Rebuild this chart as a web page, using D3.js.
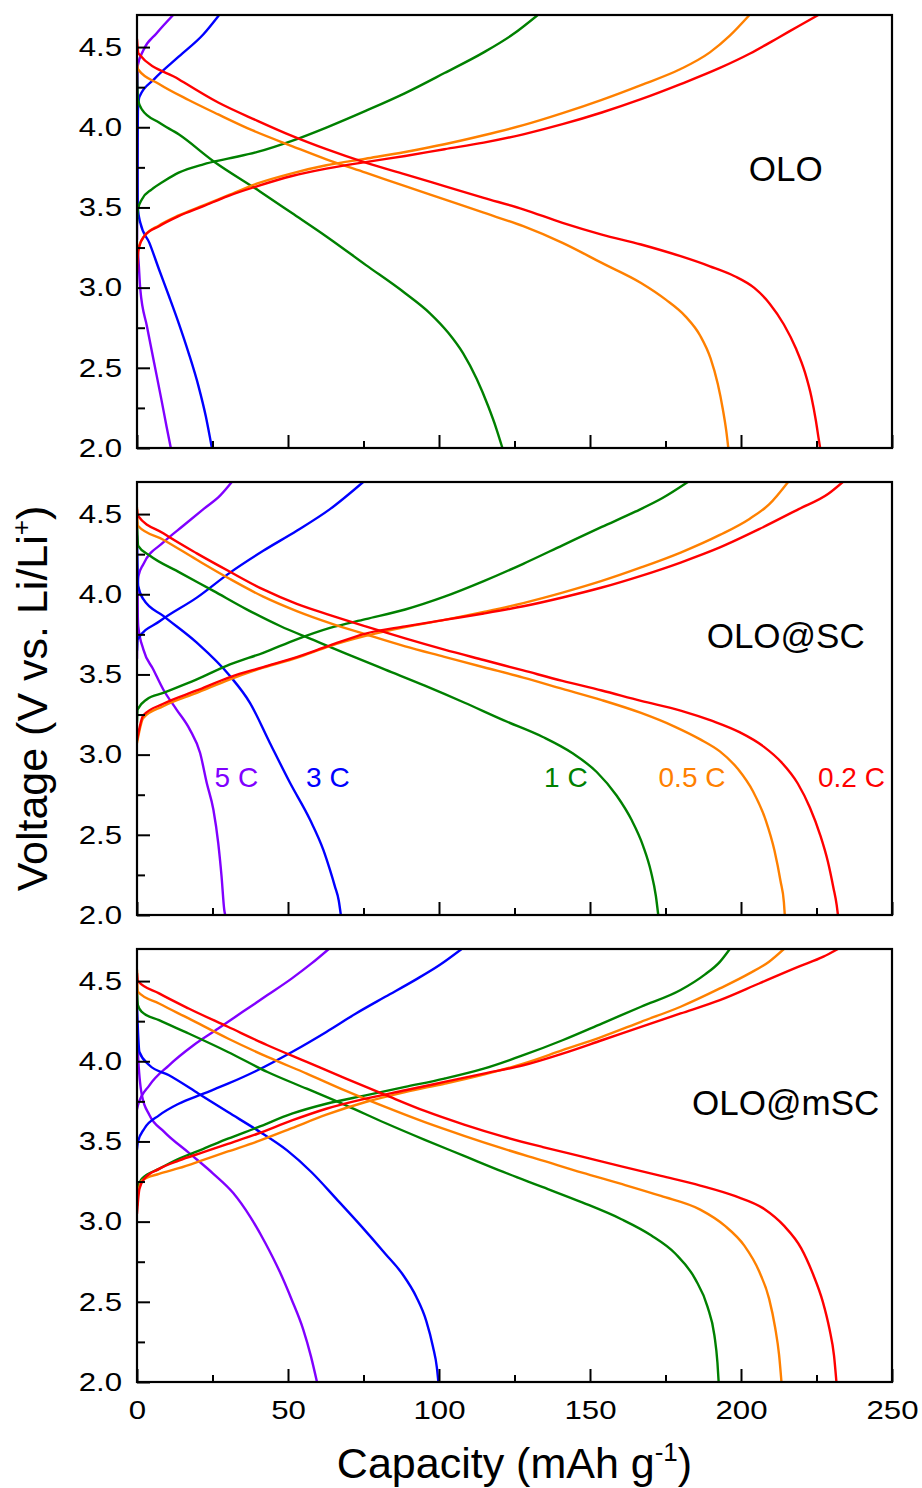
<!DOCTYPE html>
<html><head><meta charset="utf-8">
<script src="https://cdn.jsdelivr.net/npm/d3@7/dist/d3.min.js"></script>
<style>
body{margin:0;background:#fff}
text{font-family:"Liberation Sans",Arial,Helvetica,sans-serif;fill:#000}
</style>
</head><body>
<svg id="chart" width="922" height="1488"></svg>
<script>
// ---------- categories / labels ----------
const panelNames = ["OLO", "OLO@SC", "OLO@mSC"];
const rateLabels = ["5 C", "3 C", "1 C", "0.5 C", "0.2 C"];
const rateColors = ["#8000ff", "#0000ff", "#008000", "#ff8000", "#ff0000"];
const rateLabelX = [25.7, 56.0, 134.8, 172.7, 225.5];   // capacity where the labels start (panel 2)
const rateLabelV = 2.80;
const xMajorTicks = [0, 50, 100, 150, 200, 250];
const xMinorTicks = [25, 75, 125, 175, 225];
const yMajorTicks = [2.0, 2.5, 3.0, 3.5, 4.0, 4.5];
const yMinorTicks = [2.25, 2.75, 3.25, 3.75, 4.25];
const xDomain = [0, 250];
const yDomain = [2.0, 4.7];

// ---------- OLO ----------
const olo_5C_charge = [[0,3.30],[0.2,4.38],[2.1,4.48],[6.5,4.586],[12.0,4.70]];
const olo_5C_discharge = [[0,3.25],[0.3,3.217],[1.1,2.987],[3.3,2.758],[5.7,2.529],[8.1,2.30],[9.8,2.133],[11.2,2.0]];
const olo_3C_charge = [[0,3.45],[0.3,4.10],[0.8,4.19],[5.7,4.30],[13.8,4.44],[22.0,4.58],[27.2,4.70]];
const olo_3C_discharge = [[0,3.90],[0.3,3.49],[1.1,3.404],[4.1,3.279],[7.3,3.113],[10.6,2.946],[13.8,2.779],[17.1,2.592],[20.4,2.383],[22.8,2.196],[24.1,2.071],[24.8,2.0]];
const olo_1C_charge = [[0,3.40],[0.3,3.488],[1.6,3.55],[4.9,3.613],[9.0,3.665],[13.8,3.717],[22.0,3.769],[30.1,3.804],[39.9,3.846],[51.3,3.915],[62.7,3.998],[75.7,4.102],[88.8,4.213],[101.8,4.338],[114.8,4.467],[124.6,4.581],[132.7,4.70]];
const olo_1C_discharge = [[0,4.35],[0.3,4.175],[1.6,4.112],[7.3,4.029],[13.8,3.956],[25.2,3.79],[40.7,3.60],[51.3,3.465],[62.7,3.319],[75.7,3.142],[88.8,2.965],[97.0,2.84],[103.0,2.72],[108.0,2.59],[112.5,2.43],[116.3,2.26],[119.0,2.12],[121.0,2.0]];
const olo_05C_charge = [[0,3.15],[0.3,3.237],[2.4,3.321],[7.3,3.388],[13.8,3.45],[22.0,3.513],[30.1,3.575],[39.9,3.65],[51.3,3.713],[62.7,3.763],[75.7,3.804],[88.8,3.846],[101.8,3.894],[114.8,3.95],[127.9,4.013],[140.9,4.088],[153.9,4.171],[166.9,4.263],[180.0,4.363],[189.7,4.467],[196.3,4.571],[202.8,4.70]];
const olo_05C_discharge = [[0,4.40],[0.4,4.36],[7.3,4.27],[17.1,4.17],[26.9,4.08],[38.3,3.98],[51.3,3.883],[62.7,3.80],[75.7,3.717],[88.8,3.633],[101.8,3.55],[114.8,3.467],[127.9,3.383],[140.9,3.279],[153.9,3.154],[166.9,3.029],[175.1,2.925],[181.6,2.821],[186.5,2.70],[189.9,2.56],[192.3,2.40],[194.0,2.24],[195.1,2.11],[195.8,2.0]];
const olo_02C_charge = [[0,3.10],[0.3,3.2],[0.8,3.258],[2.4,3.321],[7.3,3.383],[13.8,3.446],[22.0,3.508],[30.1,3.571],[39.9,3.633],[51.3,3.696],[62.7,3.742],[75.7,3.783],[88.8,3.821],[101.8,3.863],[114.8,3.904],[127.9,3.956],[140.9,4.019],[153.9,4.092],[166.9,4.175],[180.0,4.269],[193.0,4.37],[203.0,4.46],[212.5,4.56],[219.0,4.63],[225.6,4.70]];
const olo_02C_discharge = [[0,4.55],[0.5,4.46],[13.8,4.30],[26.9,4.154],[39.9,4.04],[51.3,3.946],[62.7,3.863],[75.7,3.779],[88.8,3.706],[101.8,3.633],[114.8,3.56],[127.9,3.488],[140.9,3.404],[153.9,3.331],[166.9,3.269],[180.0,3.196],[189.7,3.133],[197.9,3.071],[204.4,2.998],[209.5,2.90],[214.2,2.77],[218.2,2.62],[221.2,2.47],[223.3,2.32],[224.8,2.17],[225.7,2.06],[226.2,2.0]];

// ---------- OLO@SC ----------
const sc_5C_charge = [[0,3.60],[0.2,4.05],[0.5,4.115],[2.1,4.1875],[8.7,4.323],[15.3,4.427],[22.0,4.531],[27.5,4.615],[31.4,4.70]];
const sc_5C_discharge = [[0,4.10],[0.4,3.802],[2.1,3.656],[5.4,3.531],[8.7,3.406],[13.1,3.281],[17.5,3.156],[20.9,3.01],[23.1,2.823],[25.3,2.656],[26.9,2.448],[28.0,2.24],[28.9,2.031],[29.2,2.0]];
const sc_3C_charge = [[0,3.65],[0.2,3.719],[7.6,3.833],[19.8,3.979],[30.8,4.135],[41.8,4.271],[52.9,4.396],[63.9,4.531],[74.9,4.70]];
const sc_3C_discharge = [[0,4.365],[0.4,4.052],[2.1,3.969],[8.7,3.865],[19.8,3.698],[30.8,3.49],[37.4,3.323],[44.0,3.073],[50.7,2.823],[57.3,2.594],[61.7,2.406],[63.9,2.281],[65.5,2.18],[66.8,2.09],[67.5,2.0]];
const sc_1C_charge = [[0,3.20],[0.2,3.281],[3.2,3.344],[8.7,3.385],[19.8,3.469],[30.8,3.5625],[41.8,3.635],[52.9,3.719],[63.9,3.79],[75.7,3.845],[88.8,3.905],[101.8,3.985],[114.8,4.082],[127.9,4.19],[140.9,4.305],[153.9,4.42],[165.0,4.515],[174.0,4.60],[182.4,4.70]];
const sc_1C_discharge = [[0,4.45],[0.4,4.302],[4.3,4.24],[14.2,4.135],[25.3,4.021],[36.3,3.906],[47.4,3.802],[58.4,3.715],[69.2,3.63],[82.2,3.53],[95.3,3.43],[108.3,3.325],[121.3,3.215],[134.4,3.11],[144.1,3.01],[152.3,2.89],[158.8,2.745],[163.7,2.595],[167.6,2.43],[170.2,2.27],[171.8,2.12],[172.6,2.0]];
const sc_05C_charge = [[0,3.073],[2.1,3.229],[8.7,3.302],[19.8,3.385],[30.8,3.469],[41.8,3.542],[52.9,3.604],[63.9,3.677],[75.7,3.74],[88.8,3.795],[101.8,3.84],[114.8,3.89],[127.9,3.945],[140.9,4.01],[153.9,4.083],[166.9,4.167],[180.0,4.26],[193.0,4.37],[202.8,4.47],[209.3,4.56],[215.6,4.70]];
const sc_05C_discharge = [[0,4.54],[0.3,4.427],[8.7,4.34],[19.8,4.215],[30.8,4.095],[41.8,3.985],[52.9,3.895],[63.9,3.82],[75.7,3.75],[88.8,3.675],[101.8,3.61],[114.8,3.545],[127.9,3.48],[140.9,3.41],[153.9,3.34],[166.9,3.26],[178.0,3.175],[186.5,3.095],[193.0,3.02],[199.0,2.91],[204.0,2.77],[208.2,2.59],[211.1,2.40],[213.1,2.21],[214.2,2.08],[214.5,2.0]];
const sc_02C_charge = [[0,3.089],[2.1,3.245],[8.7,3.317],[19.8,3.40],[30.8,3.484],[41.8,3.546],[52.9,3.608],[63.9,3.681],[75.7,3.755],[88.8,3.80],[101.8,3.84],[114.8,3.88],[127.9,3.925],[140.9,3.98],[153.9,4.042],[166.9,4.115],[180.0,4.198],[193.0,4.292],[206.0,4.406],[219.1,4.531],[228.8,4.625],[233.7,4.70]];
const sc_02C_discharge = [[0,4.53],[0.3,4.49],[8.7,4.38],[19.8,4.255],[30.8,4.14],[41.8,4.03],[52.9,3.94],[63.9,3.87],[75.7,3.80],[88.8,3.725],[101.8,3.655],[114.8,3.59],[127.9,3.525],[140.9,3.46],[153.9,3.40],[166.9,3.335],[180.0,3.275],[190.5,3.21],[199.5,3.14],[207.5,3.05],[213.5,2.95],[218.8,2.82],[222.8,2.67],[226.2,2.50],[228.8,2.33],[230.6,2.17],[231.7,2.06],[232.1,2.0]];

// ---------- OLO@mSC ----------
const msc_5C_charge = [[0,3.70],[0.3,3.725],[4.1,3.85],[10.6,3.975],[18.7,4.1],[26.9,4.204],[35.0,4.308],[43.2,4.4125],[51.3,4.517],[57.8,4.61],[63.5,4.70]];
const msc_5C_discharge = [[0,4.2],[0.3,4.058],[1.6,3.79],[4.1,3.665],[9.0,3.56],[17.1,3.43],[25.2,3.30],[31.8,3.18],[37.5,3.03],[42.4,2.87],[47.2,2.69],[51.3,2.51],[55.0,2.33],[57.6,2.16],[59.6,2.0]];
const msc_3C_charge = [[0,3.45],[0.3,3.496],[2.4,3.579],[7.3,3.6625],[13.8,3.735],[22.0,3.798],[30.1,3.86],[39.9,3.944],[51.3,4.058],[62.7,4.183],[72.5,4.298],[82.2,4.402],[92.0,4.506],[100.2,4.60],[107.5,4.70]];
const msc_3C_discharge = [[0,4.35],[0.3,4.2],[0.8,4.058],[4.1,3.975],[10.6,3.9125],[20.4,3.798],[30.1,3.683],[39.9,3.569],[49.7,3.444],[57.8,3.308],[66.0,3.142],[74.1,2.975],[82.2,2.80],[88.0,2.67],[92.5,2.53],[95.8,2.38],[98.0,2.22],[99.3,2.09],[99.8,2.0]];
const msc_1C_charge = [[0,3.1],[0.3,3.204],[1.6,3.267],[7.3,3.329],[13.8,3.392],[22.0,3.454],[30.1,3.517],[39.9,3.5875],[51.3,3.673],[62.7,3.735],[75.7,3.7875],[88.8,3.84],[101.8,3.892],[114.8,3.954],[127.9,4.0375],[140.9,4.131],[153.9,4.235],[166.9,4.34],[180.0,4.444],[188.0,4.54],[193.0,4.62],[196.3,4.70]];
const msc_1C_discharge = [[0,4.45],[0.3,4.35],[1.6,4.308],[7.3,4.256],[17.1,4.173],[30.1,4.058],[43.2,3.933],[56.2,3.829],[69.2,3.725],[82.2,3.615],[95.3,3.51],[108.3,3.41],[121.3,3.31],[134.4,3.215],[147.4,3.12],[160.4,3.015],[170.2,2.915],[178.3,2.80],[184.9,2.64],[188.9,2.47],[191.2,2.29],[192.2,2.12],[192.6,2.0]];
const msc_05C_charge = [[0,3.1],[0.3,3.1625],[1.6,3.256],[7.3,3.298],[13.8,3.333],[22.0,3.385],[30.1,3.4375],[39.9,3.5],[51.3,3.583],[62.7,3.667],[75.7,3.746],[88.8,3.808],[101.8,3.86],[114.8,3.917],[127.9,3.985],[140.9,4.069],[153.9,4.152],[166.9,4.246],[180.0,4.34],[193.0,4.454],[202.8,4.548],[209.3,4.621],[214.2,4.70]];
const msc_05C_discharge = [[0,4.57],[0.3,4.433],[7.3,4.36],[17.1,4.267],[30.1,4.142],[43.2,4.027],[56.2,3.923],[69.2,3.815],[82.2,3.715],[95.3,3.62],[108.3,3.535],[121.3,3.455],[134.4,3.38],[147.4,3.305],[160.4,3.235],[173.5,3.16],[186.5,3.075],[194.6,2.975],[201.1,2.85],[206.0,2.69],[209.3,2.52],[211.3,2.34],[212.6,2.17],[213.4,2.0]];
const msc_02C_charge = [[0,3.05],[0.2,3.1],[0.8,3.204],[2.4,3.267],[7.3,3.329],[13.8,3.381],[22.0,3.433],[30.1,3.485],[39.9,3.548],[51.3,3.631],[62.7,3.704],[75.7,3.767],[88.8,3.819],[101.8,3.871],[114.8,3.923],[127.9,3.975],[140.9,4.048],[153.9,4.131],[166.9,4.215],[180.0,4.298],[193.0,4.381],[206.0,4.485],[219.1,4.59],[227.3,4.652],[232.1,4.70]];
const msc_02C_discharge = [[0,4.55],[0.3,4.5],[7.3,4.423],[17.1,4.329],[30.1,4.215],[43.2,4.10],[56.2,3.996],[69.2,3.892],[82.2,3.79],[95.3,3.69],[108.3,3.605],[121.3,3.53],[134.4,3.465],[147.4,3.405],[160.4,3.345],[173.5,3.285],[186.5,3.225],[197.9,3.16],[207.7,3.079],[214.2,2.975],[219.9,2.835],[223.9,2.67],[227.1,2.50],[229.3,2.33],[230.8,2.165],[231.6,2.0]];

// series per panel, in rate order 5C,3C,1C,0.5C,0.2C (charge, discharge)
const panelSeries = [
  [[olo_5C_charge, olo_5C_discharge],[olo_3C_charge, olo_3C_discharge],[olo_1C_charge, olo_1C_discharge],[olo_05C_charge, olo_05C_discharge],[olo_02C_charge, olo_02C_discharge]],
  [[sc_5C_charge, sc_5C_discharge],[sc_3C_charge, sc_3C_discharge],[sc_1C_charge, sc_1C_discharge],[sc_05C_charge, sc_05C_discharge],[sc_02C_charge, sc_02C_discharge]],
  [[msc_5C_charge, msc_5C_discharge],[msc_3C_charge, msc_3C_discharge],[msc_1C_charge, msc_1C_discharge],[msc_05C_charge, msc_05C_discharge],[msc_02C_charge, msc_02C_discharge]]
];

// ---------- layout ----------
const L = 137, R = 892;
const panelTops = [15, 482, 949];
const panelH = 433;
const svg = d3.select("#chart");
const x = d3.scaleLinear().domain(xDomain).range([L, R]);

const tickFont = 26;
function stretchLabels(sel) {
  sel.selectAll("text").each(function () {
    const t = d3.select(this);
    const ax = +t.attr("x") || 0;
    t.attr("transform", `translate(${ax},0) scale(1.2,1) translate(${-ax},0)`);
  });
}

panelNames.forEach((name, pi) => {
  const top = panelTops[pi];
  const y = d3.scaleLinear().domain(yDomain).range([top + panelH, top]);
  const g = svg.append("g");
  const clipId = "clip" + pi;
  svg.append("clipPath").attr("id", clipId).append("rect")
    .attr("x", L).attr("y", top).attr("width", R - L).attr("height", panelH);

  const line = d3.line().x(d => x(d[0])).y(d => y(d[1])).curve(d3.curveMonotoneX);
  const lg = g.append("g").attr("clip-path", `url(#${clipId})`);
  panelSeries[pi].forEach((pair, ri) => {
    pair.forEach(arr => {
      lg.append("path").attr("d", line(arr)).attr("fill", "none")
        .attr("stroke", rateColors[ri]).attr("stroke-width", 2.4)
        .attr("stroke-linejoin", "round").attr("stroke-linecap", "round");
    });
  });

  // axes: inward ticks
  const yAx = g.append("g").attr("transform", `translate(${L},0)`)
    .call(d3.axisLeft(y).tickValues(yMajorTicks).tickSize(-13).tickSizeOuter(0).tickPadding(15).tickFormat(d3.format(".1f")));
  yAx.select(".domain").remove();
  yAx.selectAll("line").attr("stroke", "#000").attr("stroke-width", 2);
  yAx.selectAll("text").attr("font-size", tickFont).attr("font-family", "Liberation Sans, Arial, sans-serif").attr("fill", "#000");
  stretchLabels(yAx);
  const yMin = g.append("g").attr("transform", `translate(${L},0)`)
    .call(d3.axisLeft(y).tickValues(yMinorTicks).tickSize(-8).tickSizeOuter(0).tickFormat(""));
  yMin.select(".domain").remove();
  yMin.selectAll("line").attr("stroke", "#000").attr("stroke-width", 2);

  const xAx = g.append("g").attr("transform", `translate(0,${top + panelH})`)
    .call(d3.axisBottom(x).tickValues(xMajorTicks).tickSize(-13).tickSizeOuter(0).tickPadding(19)
      .tickFormat(pi === 2 ? d3.format("d") : ""));
  xAx.select(".domain").remove();
  xAx.selectAll("line").attr("stroke", "#000").attr("stroke-width", 2);
  xAx.selectAll("text").attr("font-size", tickFont).attr("font-family", "Liberation Sans, Arial, sans-serif").attr("fill", "#000");
  stretchLabels(xAx);
  const xMin = g.append("g").attr("transform", `translate(0,${top + panelH})`)
    .call(d3.axisBottom(x).tickValues(xMinorTicks).tickSize(-7).tickSizeOuter(0).tickFormat(""));
  xMin.select(".domain").remove();
  xMin.selectAll("line").attr("stroke", "#000").attr("stroke-width", 2);

  // frame
  g.append("rect").attr("x", L).attr("y", top).attr("width", R - L).attr("height", panelH)
    .attr("fill", "none").attr("stroke", "#000").attr("stroke-width", 2.2);

  // panel name
  g.append("text").attr("x", x(214.8)).attr("y", top + 165.5)
    .attr("text-anchor", "middle").attr("font-size", 35).text(name);

  // rate labels (middle panel only)
  if (pi === 1) {
    rateLabels.forEach((lab, ri) => {
      g.append("text").attr("x", x(rateLabelX[ri])).attr("y", y(rateLabelV))
        .attr("font-size", 28).style("fill", rateColors[ri]).text(lab);
    });
  }
});

// axis titles
const xt = svg.append("text").attr("x", (L + R) / 2).attr("y", 1478).attr("text-anchor", "middle").attr("font-size", 43);
xt.append("tspan").text("Capacity (mAh g");
xt.append("tspan").attr("font-size", 26).attr("dy", -17).text("-1");
xt.append("tspan").attr("dy", 17).text(")");

const yt = svg.append("text").attr("transform", `translate(47,${(panelTops[0] + panelTops[2] + panelH) / 2}) rotate(-90)`)
  .attr("text-anchor", "middle").attr("font-size", 43);
yt.append("tspan").text("Voltage (V vs. Li/Li");
yt.append("tspan").attr("font-size", 26).attr("dy", -17).text("+");
yt.append("tspan").attr("dy", 17).text(")");
</script>
</body></html>
